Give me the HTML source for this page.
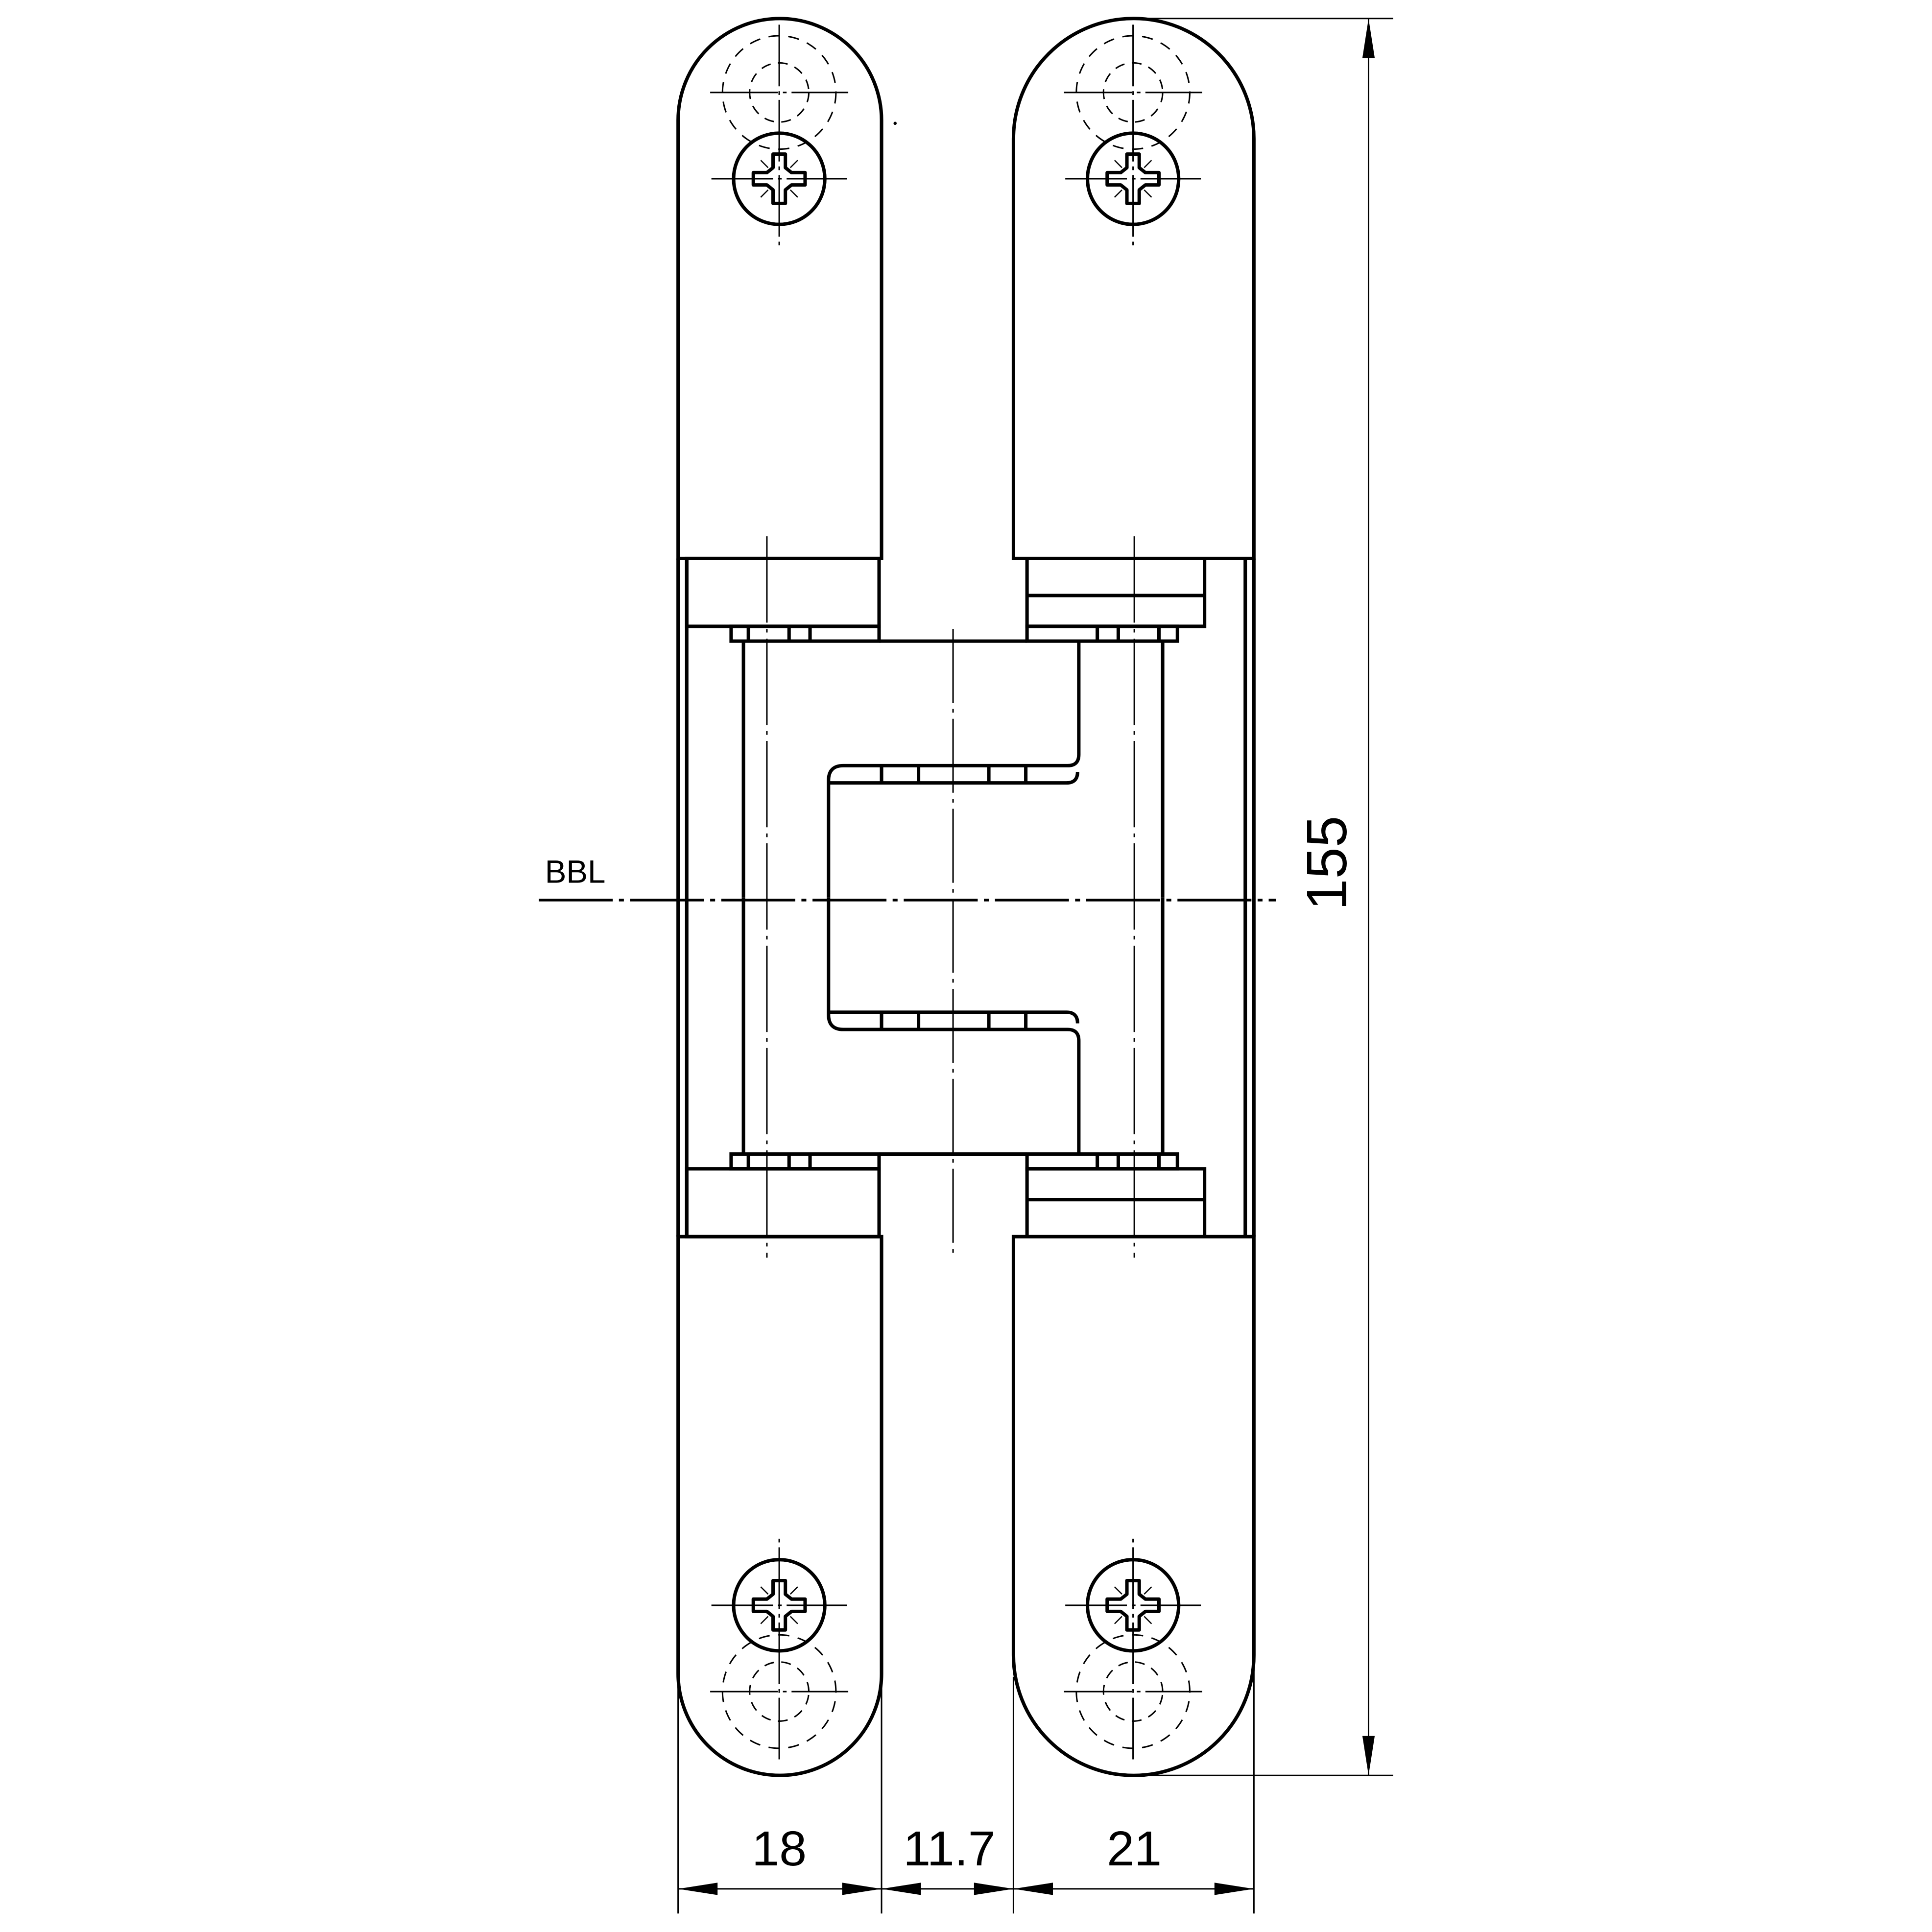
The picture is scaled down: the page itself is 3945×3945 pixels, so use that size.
<!DOCTYPE html>
<html><head><meta charset="utf-8"><style>
html,body{margin:0;padding:0;background:#fff}
svg{display:block}
text{font-family:"Liberation Sans",sans-serif;fill:#000}
</style></head><body>
<svg width="3945" height="3945" viewBox="0 0 1567 1567" xmlns="http://www.w3.org/2000/svg">
<defs>
<g id="screw">
  <circle cx="0" cy="-70" r="24" fill="none" stroke="#000" stroke-width="1.2" stroke-dasharray="8,6"/>
  <circle cx="0" cy="-70" r="46" fill="none" stroke="#000" stroke-width="1.2" stroke-dasharray="9,7"/>
  <line x1="-56" y1="-70" x2="56" y2="-70" stroke="#000" stroke-width="1.2" stroke-dasharray="55,4,3,4"/>
  <line x1="0" y1="-125" x2="0" y2="55" stroke="#000" stroke-width="1.2" stroke-dasharray="50,4,3,4"/>
  <line x1="-55" y1="0" x2="55" y2="0" stroke="#000" stroke-width="1.2" stroke-dasharray="50,4,3,4"/>
  <circle cx="0" cy="0" r="37" fill="none" stroke="#000" stroke-width="2.8"/>
  <path d="M-5 -20 H5 V-9 L10 -5 H21 V5 H10 L5 9 V20 H-5 V9 L-10 5 H-21 V-5 H-10 L-5 -9 Z" fill="none" stroke="#000" stroke-width="2.8" stroke-linejoin="round"/>
  <path d="M-15 -15 L-9 -9 M15 -15 L9 -9 M-15 15 L-9 9 M15 15 L9 9" stroke="#000" stroke-width="1"/>
</g>
<g id="half" fill="none" stroke="#000" stroke-width="2.8">
  <rect x="557" y="453" width="156" height="55"/>
  <rect x="593" y="508" width="120" height="12"/>
  <path d="M607 508V520 M640 508V520 M657 508V520"/>
  <path d="M833 453 V508 H977 V453 M833 483 H977"/>
  <rect x="833" y="508" width="122" height="12"/>
  <path d="M890 508V520 M907 508V520 M940 508V520"/>
  <path d="M713 520 H833"/>
  <path d="M603 520 V728 M943 520 V728"/>
  <path d="M875 520 V612 Q875 621 866 621 H684 Q672 621 672 633 V728"/>
  <path d="M672 635 H865 Q874 635 874 626"/>
  <path d="M715 622V635 M745 622V635 M802 622V635 M832 622V635"/>
</g>
</defs>
<g fill="none" stroke="#000" stroke-width="2.8">
  <path d="M550 453 V97.5 A82.5 82.5 0 0 1 715 97.5 V453 Z"/>
  <path d="M550 1003 V1357.5 A82.5 82.5 0 0 0 715 1357.5 V1003 Z"/>
  <path d="M822 453 V112.5 A97.5 97.5 0 0 1 1017 112.5 V453 Z"/>
  <path d="M822 1003 V1342.5 A97.5 97.5 0 0 0 1017 1342.5 V1003 Z"/>
  <path d="M550 453 V1003 M557 453 V1003 M1010 453 V1003 M1017 453 V1003"/>
</g>
<use href="#half"/>
<use href="#half" transform="translate(0,1456) scale(1,-1)"/>
<g stroke="#000" stroke-width="1.2" fill="none">
  <line x1="622" y1="435" x2="622" y2="1020" stroke-dasharray="70,5,3,5"/>
  <line x1="920" y1="435" x2="920" y2="1020" stroke-dasharray="70,5,3,5"/>
  <line x1="773" y1="510" x2="773" y2="1020" stroke-dasharray="60,5,3,5"/>
</g>
<line x1="437" y1="730" x2="1035" y2="730" stroke="#000" stroke-width="2.2" stroke-dasharray="60,5,4,5"/>
<text x="442" y="716" font-size="26">BBL</text>
<use href="#screw" transform="translate(632,145)"/>
<use href="#screw" transform="translate(919,145)"/>
<use href="#screw" transform="translate(632,1302) scale(1,-1)"/>
<use href="#screw" transform="translate(919,1302) scale(1,-1)"/>
<circle cx="726" cy="100" r="1.3" fill="#000"/>
<g stroke="#000" stroke-width="1.2" fill="none">
  <path d="M920 15 H1130 M920 1440 H1130 M1110 15 V1440"/>
  <path d="M550 1360 V1552 M715 1365 V1552 M822 1360 V1552 M1017 1345 V1552"/>
  <path d="M550 1532 H1017"/>
</g>
<g fill="#000">
  <path d="M1110 15 L1105 47 L1115 47 Z"/>
  <path d="M1110 1440 L1105 1408 L1115 1408 Z"/>
  <path d="M550 1532 L582 1527 L582 1537 Z"/>
  <path d="M715 1532 L683 1527 L683 1537 Z"/>
  <path d="M715 1532 L747 1527 L747 1537 Z"/>
  <path d="M822 1532 L790 1527 L790 1537 Z"/>
  <path d="M822 1532 L854 1527 L854 1537 Z"/>
  <path d="M1017 1532 L985 1527 L985 1537 Z"/>
</g>
<text x="632" y="1513" font-size="40" text-anchor="middle">18</text>
<text x="770" y="1513" font-size="40" text-anchor="middle">11.7</text>
<text x="920" y="1513" font-size="40" text-anchor="middle">21</text>
<text x="0" y="0" font-size="46" text-anchor="middle" transform="translate(1092,700) rotate(-90)">155</text>
</svg>
</body></html>
